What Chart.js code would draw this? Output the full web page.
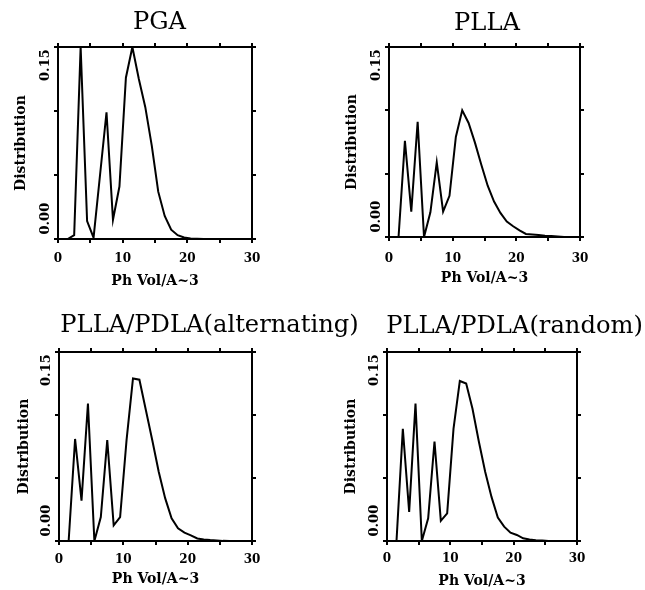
<!DOCTYPE html>
<html>
<head>
<meta charset="utf-8">
<title>Ph Vol distributions</title>
<script src="https://cdn.jsdelivr.net/npm/chart.js@4/dist/chart.umd.min.js"></script>
<style>
  html, body { margin: 0; padding: 0; background: #fff; width: 645px; height: 590px; overflow: hidden; }
  canvas { position: absolute; }
</style>
</head>
<body>
<canvas id="pga"></canvas>
<canvas id="plla"></canvas>
<canvas id="alternating"></canvas>
<canvas id="random"></canvas>
<script>
// bin centres (Ph Vol/A^3)
const volumes = [0.5, 1.5, 2.5, 3.5, 4.5, 5.5, 6.5, 7.5, 8.5, 9.5,
                 10.5, 11.5, 12.5, 13.5, 14.5, 15.5, 16.5, 17.5, 18.5, 19.5,
                 20.5, 21.5, 22.5, 23.5, 24.5, 25.5, 26.5, 27.5, 28.5, 29.5];

const pga = [0, 0, 0.003, 0.150, 0.014, 0.001, 0.050, 0.099, 0.015, 0.041,
             0.126, 0.150, 0.125, 0.103, 0.073, 0.037, 0.018, 0.0073, 0.003, 0.0012,
             0.0004, 0.0002, 0, 0, 0, 0, 0, 0, 0, 0];

const plla = [0, 0, 0.076, 0.020, 0.091, 0, 0.0195, 0.059, 0.020, 0.0325,
              0.079, 0.100, 0.090, 0.0745, 0.057, 0.0405, 0.028, 0.019, 0.0122, 0.0085,
              0.0053, 0.0024, 0.002, 0.0015, 0.001, 0.0007, 0.0003, 0, 0, 0];

const alternating = [0, 0, 0.081, 0.032, 0.109, 0, 0.019, 0.080, 0.0125, 0.019,
                     0.080, 0.129, 0.128, 0.104, 0.080, 0.055, 0.034, 0.018, 0.010, 0.0066,
                     0.0045, 0.002, 0.0012, 0.0007, 0.0004, 0.0001, 0, 0, 0, 0];

const random = [0, 0, 0.089, 0.023, 0.109, 0, 0.018, 0.079, 0.016, 0.022,
                0.089, 0.127, 0.125, 0.105, 0.079, 0.055, 0.035, 0.0186, 0.0114, 0.0066,
                0.0048, 0.0021, 0.0012, 0.0006, 0.0003, 0, 0, 0, 0, 0];

const titles = ['PGA', 'PLLA', 'PLLA/PDLA(alternating)', 'PLLA/PDLA(random)'];
const xAxisTitle = 'Ph Vol/A~3';
const yAxisTitle = 'Distribution';
const xLabelTicks = [0, 10, 20, 30];
const yLabelTicks = [0, 0.15];

const serif = '"DejaVu Serif", serif';
const black = '#000';
const tickLen = 4;
const lh = 1.2;
const titleSize = 24.2, axisTitleSize = 14, xTickSize = 12, yTickSize = 13;

// y labels are rotated and kept inside the axis: the top one hangs down from 0.15,
// the bottom one stands above 0, so pad them with spaces and centre them
const yLabelText = {
  0: ' '.repeat(9) + '0.00',
  0.15: '0.15' + ' '.repeat(8)
};
const meas = document.createElement('canvas').getContext('2d');
meas.font = 'normal bold ' + yTickSize + 'px ' + serif;
const yWidest = Math.max(...Object.values(yLabelText).map(t => meas.measureText(t).width));

// canvas placement and where things land inside each canvas
const panels = [
  {id: 'pga', title: titles[0], values: pga, x: 0, y: 0, w: 319, h: 295,
   box: {left: 58, right: 252, top: 47, bottom: 239}, titleY: 23, yTitleX: 21, xLabelY: 258.7, xTitleY: 281},
  {id: 'plla', title: titles[1], values: plla, x: 322, y: 0, w: 330, h: 295,
   box: {left: 67, right: 258, top: 47, bottom: 237}, titleY: 23.3, yTitleX: 30.5, xLabelY: 258.7, xTitleY: 278.3},
  {id: 'alternating', title: titles[2], values: alternating, x: 0, y: 295, w: 419, h: 295,
   box: {left: 59, right: 252, top: 57, bottom: 246}, titleY: 31, yTitleX: 24, xLabelY: 265, xTitleY: 284},
  {id: 'random', title: titles[3], values: random, x: 320, y: 295, w: 389, h: 295,
   box: {left: 67, right: 257, top: 57, bottom: 246}, titleY: 32, yTitleX: 31, xLabelY: 264.2, xTitleY: 286.5}
];

function frameAxis(extra) {
  return Object.assign({
    type: 'linear',
    border: {display: true, color: black, width: 2},
    grid: {drawOnChartArea: false, drawTicks: true, tickLength: tickLen, color: black, lineWidth: 2}
  }, extra);
}

function isTick(list, v) {
  return list.some(t => Math.abs(t - v) < 1e-9);
}

panels.forEach(p => {
  const canvas = document.getElementById(p.id);
  canvas.width = p.w;
  canvas.height = p.h;
  canvas.style.left = p.x + 'px';
  canvas.style.top = p.y + 'px';
  const b = p.box;

  new Chart(canvas, {
    type: 'line',
    data: {
      datasets: [{
        data: volumes.map((v, i) => ({x: v, y: p.values[i]})),
        borderColor: black,
        borderWidth: 2,
        pointRadius: 0,
        tension: 0,
        fill: false
      }]
    },
    options: {
      responsive: false,
      animation: false,
      devicePixelRatio: 1,
      events: [],
      layout: {padding: 0},
      plugins: {
        legend: {display: false},
        tooltip: {enabled: false},
        title: {
          display: true,
          text: p.title,
          fullSize: true,
          align: 'center',
          color: black,
          font: {family: serif, size: titleSize, weight: 'normal', lineHeight: lh},
          padding: {top: p.titleY - titleSize * lh / 2, bottom: 0}
        }
      },
      scales: {
        x: frameAxis({
          position: 'bottom',
          min: 0, max: 30,
          ticks: {
            stepSize: 5, autoSkip: false, maxRotation: 0, color: black,
            padding: p.xLabelY - b.bottom - tickLen - xTickSize * lh / 2,
            font: {family: serif, size: xTickSize, weight: 'bold'},
            callback: v => isTick(xLabelTicks, v) ? String(v) : ''
          },
          title: {
            display: true, text: xAxisTitle, color: black,
            font: {family: serif, size: axisTitleSize, weight: 'bold'},
            padding: {top: 0, bottom: Math.max(0, p.h - p.xTitleY - axisTitleSize * lh / 2)}
          },
          afterFit: s => { s.height = p.h - b.bottom; }
        }),
        xTop: frameAxis({
          position: 'top',
          min: 0, max: 30,
          ticks: {display: false, stepSize: 5},
          afterFit: s => { s.height = b.top - p.titleY - titleSize * lh / 2; }
        }),
        y: frameAxis({
          position: 'left',
          min: 0, max: 0.15,
          ticks: {
            stepSize: 0.05, autoSkip: false, minRotation: 90, maxRotation: 90, crossAlign: 'center', color: black,
            padding: 12.2 - tickLen - yWidest / 2,
            font: {family: serif, size: yTickSize, weight: 'bold'},
            callback: v => {
              const hit = yLabelTicks.find(t => Math.abs(t - v) < 1e-9);
              return hit === undefined ? '' : yLabelText[hit];
            }
          },
          title: {
            display: true, text: yAxisTitle, color: black,
            font: {family: serif, size: axisTitleSize, weight: 'bold'},
            padding: {top: p.yTitleX - axisTitleSize * lh / 2, bottom: 0}
          },
          afterFit: s => { s.width = b.left; }
        }),
        yRight: frameAxis({
          position: 'right',
          min: 0, max: 0.15,
          ticks: {display: false, stepSize: 0.05},
          afterFit: s => { s.width = p.w - b.right; }
        })
      }
    }
  });
});
</script>
</body>
</html>
